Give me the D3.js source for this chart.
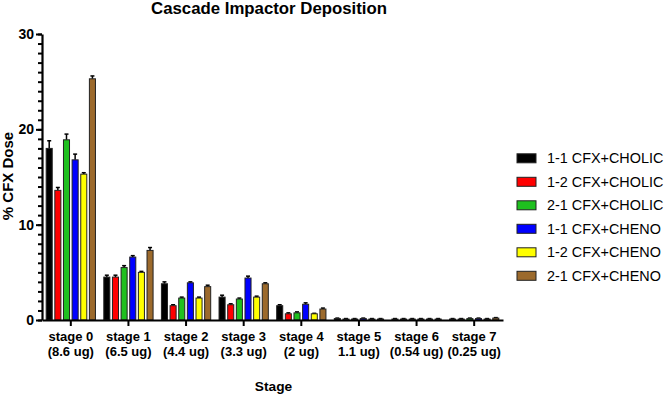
<!DOCTYPE html>
<html>
<head>
<meta charset="utf-8">
<script src="https://cdn.jsdelivr.net/npm/d3@7"></script>
<style>
  body { margin: 0; background: #fff; }
  text { font-family: "Liberation Sans", Arial, sans-serif; }
</style>
</head>
<body>
<script>
// stages on the x axis (two-line labels)
var stages = ["stage 0", "stage 1", "stage 2", "stage 3", "stage 4", "stage 5", "stage 6", "stage 7"];
var stageDoses = ["(8.6 ug)", "(6.5 ug)", "(4.4 ug)", "(3.3 ug)", "(2 ug)", "1.1 ug)", "(0.54 ug)", "(0.25 ug)"];

var seriesNames = ["1-1 CFX+CHOLIC", "1-2 CFX+CHOLIC", "2-1 CFX+CHOLIC", "1-1 CFX+CHENO", "1-2 CFX+CHENO", "2-1 CFX+CHENO"];
var seriesColors = ["#000000", "#ff0000", "#1fc01f", "#0000ff", "#ffff00", "#9c6a2c"];

// % CFX dose, one array per series (stage 0..7)
var chol11 = [18.0, 4.5, 3.8, 2.4, 1.5, 0.15, 0.1, 0.1];
var chol12 = [13.6, 4.5, 1.5, 1.6, 0.65, 0.1, 0.1, 0.1];
var chol21 = [18.9, 5.5, 2.3, 2.2, 0.75, 0.1, 0.1, 0.15];
var cheno11 = [16.8, 6.6, 3.9, 4.4, 1.65, 0.15, 0.1, 0.15];
var cheno12 = [15.3, 5.0, 2.3, 2.4, 0.65, 0.1, 0.1, 0.1];
var cheno21 = [25.3, 7.3, 3.5, 3.8, 1.15, 0.1, 0.1, 0.2];

// error bars (upper SD)
var chol11Err = [0.8, 0.2, 0.2, 0.2, 0.1, 0.05, 0.05, 0.05];
var chol12Err = [0.3, 0.2, 0.1, 0.1, 0.1, 0.05, 0.05, 0.05];
var chol21Err = [0.6, 0.2, 0.1, 0.1, 0.1, 0.05, 0.05, 0.05];
var cheno11Err = [0.6, 0.15, 0.1, 0.2, 0.15, 0.05, 0.05, 0.05];
var cheno12Err = [0.15, 0.1, 0.1, 0.1, 0.05, 0.05, 0.05, 0.05];
var cheno21Err = [0.3, 0.3, 0.15, 0.1, 0.1, 0.05, 0.05, 0.05];

var yMajorTicks = [0, 10, 20, 30];

var allValues = [chol11, chol12, chol21, cheno11, cheno12, cheno21];
var allErrors = [chol11Err, chol12Err, chol21Err, cheno11Err, cheno12Err, cheno21Err];

var width = 664, height = 394;
var plot = {left: 42, right: 503, top: 34, bottom: 320};

var svg = d3.select("body").append("svg")
    .attr("width", width)
    .attr("height", height);

// scales
var x = d3.scaleBand()
    .domain(stages)
    .range([plot.left, plot.right])
    .paddingInner(0.1)
    .paddingOuter(0.05);

var x1 = d3.scaleBand()
    .domain(seriesNames)
    .range([0, x.bandwidth()])
    .paddingInner(0.3)
    .paddingOuter(0.15);

var y = d3.scaleLinear()
    .domain([0, 30])
    .range([plot.bottom, plot.top]);

// flatten into rows for drawing
var rows = [];
stages.forEach(function(s, i) {
    seriesNames.forEach(function(n, j) {
        rows.push({stage: s, series: n, color: seriesColors[j], value: allValues[j][i], err: allErrors[j][i]});
    });
});

// error bars drawn first so the bar sits on top of the lower half
var eb = svg.append("g").attr("class", "errors");
eb.selectAll("line.v")
    .data(rows)
  .enter().append("line")
    .attr("x1", function(d) { return x(d.stage) + x1(d.series) + x1.bandwidth() / 2; })
    .attr("x2", function(d) { return x(d.stage) + x1(d.series) + x1.bandwidth() / 2; })
    .attr("y1", function(d) { return y(d.value); })
    .attr("y2", function(d) { return y(d.value + d.err); })
    .attr("stroke", "#000")
    .attr("stroke-width", 1.5);
eb.selectAll("line.h")
    .data(rows)
  .enter().append("line")
    .attr("x1", function(d) { return x(d.stage) + x1(d.series) + x1.bandwidth() / 2 - 2; })
    .attr("x2", function(d) { return x(d.stage) + x1(d.series) + x1.bandwidth() / 2 + 2; })
    .attr("y1", function(d) { return y(d.value + d.err); })
    .attr("y2", function(d) { return y(d.value + d.err); })
    .attr("stroke", "#000")
    .attr("stroke-width", 1.5);

// bars
svg.append("g").selectAll("rect")
    .data(rows)
  .enter().append("rect")
    .attr("x", function(d) { return x(d.stage) + x1(d.series); })
    .attr("width", x1.bandwidth())
    .attr("y", function(d) { return y(d.value); })
    .attr("height", function(d) { return y(0) - y(d.value); })
    .attr("fill", function(d) { return d.color; })
    .attr("stroke", "#222")
    .attr("stroke-width", 1);

// y axis: major + minor ticks
var yAxis = svg.append("g")
    .attr("transform", "translate(" + plot.left + ",0)")
    .call(d3.axisLeft(y).tickValues(yMajorTicks).tickSize(6).tickSizeOuter(0).tickPadding(2));
svg.append("g")
    .attr("transform", "translate(" + plot.left + ",0)")
    .call(d3.axisLeft(y).tickValues(d3.range(0, 31)).tickSize(4).tickSizeOuter(0).tickFormat(""))
    .select(".domain").remove();

// x axis
var xAxis = svg.append("g")
    .attr("transform", "translate(0," + plot.bottom + ")")
    .call(d3.axisBottom(x).tickSize(6).tickSizeOuter(0).tickPadding(6));

svg.selectAll(".domain").attr("stroke-width", 2.2).attr("stroke", "#000");
svg.selectAll(".tick line").attr("stroke-width", 2).attr("stroke", "#000");

yAxis.selectAll("text")
    .style("font-size", "14px")
    .style("font-weight", "bold")
    .attr("fill", "#000");

xAxis.selectAll(".tick text")
    .style("font-size", "13px")
    .style("font-weight", "bold")
    .attr("fill", "#000")
    .each(function(d, i) {
        var el = d3.select(this);
        el.text("");
        el.append("tspan").attr("x", 0).attr("dy", "0.71em").text(d);
        el.append("tspan").attr("x", 0).attr("dy", "15").text(stageDoses[i]);
    });

// title
svg.append("text")
    .attr("x", 269)
    .attr("y", 14)
    .attr("text-anchor", "middle")
    .style("font-size", "16.8px")
    .style("font-weight", "bold")
    .text("Cascade Impactor Deposition");

// axis titles
svg.append("text")
    .attr("transform", "translate(13,176) rotate(-90)")
    .attr("text-anchor", "middle")
    .style("font-size", "15px")
    .style("font-weight", "bold")
    .text("% CFX Dose");

svg.append("text")
    .attr("x", 273.5)
    .attr("y", 391)
    .attr("text-anchor", "middle")
    .style("font-size", "13.7px")
    .style("font-weight", "bold")
    .text("Stage");

// legend
var legend = svg.append("g").attr("class", "legend");
var item = legend.selectAll("g")
    .data(seriesNames)
  .enter().append("g")
    .attr("transform", function(d, i) { return "translate(517," + (158.3 + i * 23.5) + ")"; });
item.append("rect")
    .attr("x", 0)
    .attr("y", -4.5)
    .attr("width", 19)
    .attr("height", 9)
    .attr("fill", function(d, i) { return seriesColors[i]; })
    .attr("stroke", "#222")
    .attr("stroke-width", 1);
item.append("text")
    .attr("x", 30)
    .attr("y", 0)
    .attr("dy", "0.35em")
    .style("font-size", "14.4px")
    .text(function(d) { return d; });
</script>
</body>
</html>
